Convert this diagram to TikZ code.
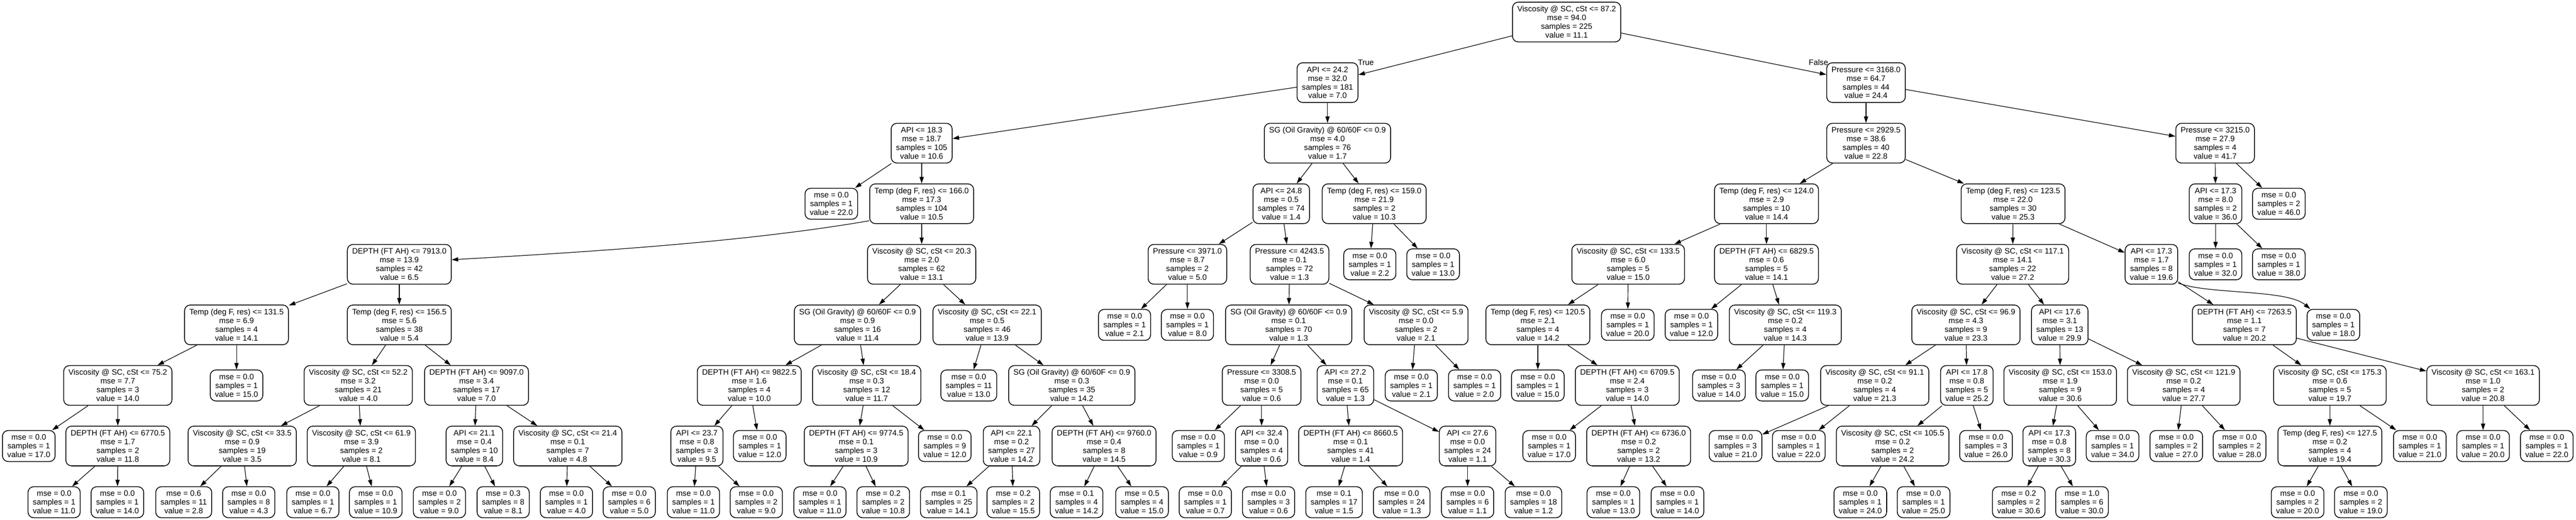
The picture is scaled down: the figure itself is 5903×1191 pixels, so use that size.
\documentclass[tikz,border=0pt]{standalone}
\usepackage{fontspec}
\setmainfont{Liberation Sans}
\usetikzlibrary{arrows.meta,calc}
\tikzset{
  box/.style={draw=black, line width=0.9pt, rounded corners=6.5pt, align=center,
    inner xsep=5.5pt, inner ysep=0pt, font=\fontsize{9pt}{10pt}\selectfont},
  nd/.style={box, minimum height=45.5pt},
  lf/.style={box, minimum height=35.5pt},
  edge/.style={draw=black, line width=0.7pt, -{Triangle[length=7.5pt,width=4.8pt]}},
  lbl/.style={font=\fontsize{9pt}{10pt}\selectfont, inner sep=0pt}
}
\begin{document}
\begin{tikzpicture}[x=0.5pt,y=-0.5pt]
\fill[white] (0,0) rectangle (5903,1191);
\useasboundingbox (0,0) rectangle (5903,1191);
% row 0
\node[nd] (n0) at (3590,50.5) {Viscosity @ SC, cSt <= 87.2\\mse = 94.0\\samples = 225\\value = 11.1};
% row 1
\node[nd] (n1) at (3042,189.25) {API <= 24.2\\mse = 32.0\\samples = 181\\value = 7.0};
\node[nd] (n2) at (4276,189.25) {Pressure <= 3168.0\\mse = 64.7\\samples = 44\\value = 24.4};
% row 2
\node[nd] (n3) at (2112,328) {API <= 18.3\\mse = 18.7\\samples = 105\\value = 10.6};
\node[nd] (n4) at (3042,328) {SG (Oil Gravity) @ 60/60F <= 0.9\\mse = 4.0\\samples = 76\\value = 1.7};
\node[nd] (n5) at (4276,328) {Pressure <= 2929.5\\mse = 38.6\\samples = 40\\value = 22.8};
\node[nd] (n6) at (5076,328) {Pressure <= 3215.0\\mse = 27.9\\samples = 4\\value = 41.7};
% row 3
\node[lf] (n7) at (1905,466.75) {mse = 0.0\\samples = 1\\value = 22.0};
\node[nd] (n8) at (2112,466.75) {Temp (deg F, res) <= 166.0\\mse = 17.3\\samples = 104\\value = 10.5};
\node[nd] (n9) at (2936,466.75) {API <= 24.8\\mse = 0.5\\samples = 74\\value = 1.4};
\node[nd] (n10) at (3149,466.75) {Temp (deg F, res) <= 159.0\\mse = 21.9\\samples = 2\\value = 10.3};
\node[nd] (n11) at (4048,466.75) {Temp (deg F, res) <= 124.0\\mse = 2.9\\samples = 10\\value = 14.4};
\node[nd] (n12) at (4613,466.75) {Temp (deg F, res) <= 123.5\\mse = 22.0\\samples = 30\\value = 25.3};
\node[nd] (n13) at (5077,466.75) {API <= 17.3\\mse = 8.0\\samples = 2\\value = 36.0};
\node[lf] (n14) at (5222,466.75) {mse = 0.0\\samples = 2\\value = 46.0};
% row 4
\node[nd] (n15) at (915,605.5) {DEPTH (FT AH) <= 7913.0\\mse = 13.9\\samples = 42\\value = 6.5};
\node[nd] (n16) at (2112,605.5) {Viscosity @ SC, cSt <= 20.3\\mse = 2.0\\samples = 62\\value = 13.1};
\node[nd] (n17) at (2721,605.5) {Pressure <= 3971.0\\mse = 8.7\\samples = 2\\value = 5.0};
\node[nd] (n18) at (2955,605.5) {Pressure <= 4243.5\\mse = 0.1\\samples = 72\\value = 1.3};
\node[lf] (n19) at (3139,605.5) {mse = 0.0\\samples = 1\\value = 2.2};
\node[lf] (n20) at (3284,605.5) {mse = 0.0\\samples = 1\\value = 13.0};
\node[nd] (n21) at (3731,605.5) {Viscosity @ SC, cSt <= 133.5\\mse = 6.0\\samples = 5\\value = 15.0};
\node[nd] (n22) at (4048,605.5) {DEPTH (FT AH) <= 6829.5\\mse = 0.6\\samples = 5\\value = 14.1};
\node[nd] (n23) at (4612,605.5) {Viscosity @ SC, cSt <= 117.1\\mse = 14.1\\samples = 22\\value = 27.2};
\node[nd] (n24) at (4930,605.5) {API <= 17.3\\mse = 1.7\\samples = 8\\value = 19.6};
\node[lf] (n25) at (5077,605.5) {mse = 0.0\\samples = 1\\value = 32.0};
\node[lf] (n26) at (5222,605.5) {mse = 0.0\\samples = 1\\value = 38.0};
% row 5
\node[nd] (n27) at (542,744.25) {Temp (deg F, res) <= 131.5\\mse = 6.9\\samples = 4\\value = 14.1};
\node[nd] (n28) at (915,744.25) {Temp (deg F, res) <= 156.5\\mse = 5.6\\samples = 38\\value = 5.4};
\node[nd] (n29) at (1965,744.25) {SG (Oil Gravity) @ 60/60F <= 0.9\\mse = 0.9\\samples = 16\\value = 11.4};
\node[nd] (n30) at (2262,744.25) {Viscosity @ SC, cSt <= 22.1\\mse = 0.5\\samples = 46\\value = 13.9};
\node[lf] (n31) at (2577,744.25) {mse = 0.0\\samples = 1\\value = 2.1};
\node[lf] (n32) at (2721,744.25) {mse = 0.0\\samples = 1\\value = 8.0};
\node[nd] (n33) at (2953,744.25) {SG (Oil Gravity) @ 60/60F <= 0.9\\mse = 0.1\\samples = 70\\value = 1.3};
\node[nd] (n34) at (3245,744.25) {Viscosity @ SC, cSt <= 5.9\\mse = 0.0\\samples = 2\\value = 2.1};
\node[nd] (n35) at (3524,744.25) {Temp (deg F, res) <= 120.5\\mse = 2.1\\samples = 4\\value = 14.2};
\node[lf] (n36) at (3730,744.25) {mse = 0.0\\samples = 1\\value = 20.0};
\node[lf] (n37) at (3876,744.25) {mse = 0.0\\samples = 1\\value = 12.0};
\node[nd] (n38) at (4091,744.25) {Viscosity @ SC, cSt <= 119.3\\mse = 0.2\\samples = 4\\value = 14.3};
\node[nd] (n39) at (4505,744.25) {Viscosity @ SC, cSt <= 96.9\\mse = 4.3\\samples = 9\\value = 23.3};
\node[nd] (n40) at (4720,744.25) {API <= 17.6\\mse = 3.1\\samples = 13\\value = 29.9};
\node[nd] (n41) at (5143,744.25) {DEPTH (FT AH) <= 7263.5\\mse = 1.1\\samples = 7\\value = 20.2};
\node[lf] (n42) at (5347,744.25) {mse = 0.0\\samples = 1\\value = 18.0};
% row 6
\node[nd] (n43) at (270,883) {Viscosity @ SC, cSt <= 75.2\\mse = 7.7\\samples = 3\\value = 14.0};
\node[lf] (n44) at (542,883) {mse = 0.0\\samples = 1\\value = 15.0};
\node[nd] (n45) at (821,883) {Viscosity @ SC, cSt <= 52.2\\mse = 3.2\\samples = 21\\value = 4.0};
\node[nd] (n46) at (1092,883) {DEPTH (FT AH) <= 9097.0\\mse = 3.4\\samples = 17\\value = 7.0};
\node[nd] (n47) at (1717,883) {DEPTH (FT AH) <= 9822.5\\mse = 1.6\\samples = 4\\value = 10.0};
\node[nd] (n48) at (1986,883) {Viscosity @ SC, cSt <= 18.4\\mse = 0.3\\samples = 12\\value = 11.7};
\node[lf] (n49) at (2220,883) {mse = 0.0\\samples = 11\\value = 13.0};
\node[nd] (n50) at (2456,883) {SG (Oil Gravity) @ 60/60F <= 0.9\\mse = 0.3\\samples = 35\\value = 14.2};
\node[nd] (n51) at (2891,883) {Pressure <= 3308.5\\mse = 0.0\\samples = 5\\value = 0.6};
\node[nd] (n52) at (3083,883) {API <= 27.2\\mse = 0.1\\samples = 65\\value = 1.3};
\node[lf] (n53) at (3234,883) {mse = 0.0\\samples = 1\\value = 2.1};
\node[lf] (n54) at (3379,883) {mse = 0.0\\samples = 1\\value = 2.0};
\node[lf] (n55) at (3524,883) {mse = 0.0\\samples = 1\\value = 15.0};
\node[nd] (n56) at (3729,883) {DEPTH (FT AH) <= 6709.5\\mse = 2.4\\samples = 3\\value = 14.0};
\node[lf] (n57) at (3939,883) {mse = 0.0\\samples = 3\\value = 14.0};
\node[lf] (n58) at (4084,883) {mse = 0.0\\samples = 1\\value = 15.0};
\node[nd] (n59) at (4296,883) {Viscosity @ SC, cSt <= 91.1\\mse = 0.2\\samples = 4\\value = 21.3};
\node[nd] (n60) at (4507,883) {API <= 17.8\\mse = 0.8\\samples = 5\\value = 25.2};
\node[nd] (n61) at (4721,883) {Viscosity @ SC, cSt <= 153.0\\mse = 1.9\\samples = 9\\value = 30.6};
\node[nd] (n62) at (5004,883) {Viscosity @ SC, cSt <= 121.9\\mse = 0.2\\samples = 4\\value = 27.7};
\node[nd] (n63) at (5339,883) {Viscosity @ SC, cSt <= 175.3\\mse = 0.6\\samples = 5\\value = 19.7};
\node[nd] (n64) at (5690,883) {Viscosity @ SC, cSt <= 163.1\\mse = 1.0\\samples = 2\\value = 20.8};
% row 7
\node[lf] (n65) at (66,1021.75) {mse = 0.0\\samples = 1\\value = 17.0};
\node[nd] (n66) at (270,1021.75) {DEPTH (FT AH) <= 6770.5\\mse = 1.7\\samples = 2\\value = 11.8};
\node[nd] (n67) at (555,1021.75) {Viscosity @ SC, cSt <= 33.5\\mse = 0.9\\samples = 19\\value = 3.5};
\node[nd] (n68) at (828,1021.75) {Viscosity @ SC, cSt <= 61.9\\mse = 3.9\\samples = 2\\value = 8.1};
\node[nd] (n69) at (1087,1021.75) {API <= 21.1\\mse = 0.4\\samples = 10\\value = 8.4};
\node[nd] (n70) at (1301,1021.75) {Viscosity @ SC, cSt <= 21.4\\mse = 0.1\\samples = 7\\value = 4.8};
\node[nd] (n71) at (1597,1021.75) {API <= 23.7\\mse = 0.8\\samples = 3\\value = 9.5};
\node[lf] (n72) at (1741,1021.75) {mse = 0.0\\samples = 1\\value = 12.0};
\node[nd] (n73) at (1962,1021.75) {DEPTH (FT AH) <= 9774.5\\mse = 0.1\\samples = 3\\value = 10.9};
\node[lf] (n74) at (2165,1021.75) {mse = 0.0\\samples = 9\\value = 12.0};
\node[nd] (n75) at (2318,1021.75) {API <= 22.1\\mse = 0.2\\samples = 27\\value = 14.2};
\node[nd] (n76) at (2530,1021.75) {DEPTH (FT AH) <= 9760.0\\mse = 0.4\\samples = 8\\value = 14.5};
\node[lf] (n77) at (2746,1021.75) {mse = 0.0\\samples = 1\\value = 0.9};
\node[nd] (n78) at (2891,1021.75) {API <= 32.4\\mse = 0.0\\samples = 4\\value = 0.6};
\node[nd] (n79) at (3095,1021.75) {DEPTH (FT AH) <= 8660.5\\mse = 0.1\\samples = 41\\value = 1.4};
\node[nd] (n80) at (3363,1021.75) {API <= 27.6\\mse = 0.0\\samples = 24\\value = 1.1};
\node[lf] (n81) at (3550,1021.75) {mse = 0.0\\samples = 1\\value = 17.0};
\node[nd] (n82) at (3755,1021.75) {DEPTH (FT AH) <= 6736.0\\mse = 0.2\\samples = 2\\value = 13.2};
\node[lf] (n83) at (3977,1021.75) {mse = 0.0\\samples = 3\\value = 21.0};
\node[lf] (n84) at (4122,1021.75) {mse = 0.0\\samples = 1\\value = 22.0};
\node[nd] (n85) at (4337,1021.75) {Viscosity @ SC, cSt <= 105.5\\mse = 0.2\\samples = 2\\value = 24.2};
\node[lf] (n86) at (4551,1021.75) {mse = 0.0\\samples = 3\\value = 26.0};
\node[nd] (n87) at (4696,1021.75) {API <= 17.3\\mse = 0.8\\samples = 8\\value = 30.3};
\node[lf] (n88) at (4841,1021.75) {mse = 0.0\\samples = 1\\value = 34.0};
\node[lf] (n89) at (4987,1021.75) {mse = 0.0\\samples = 2\\value = 27.0};
\node[lf] (n90) at (5132,1021.75) {mse = 0.0\\samples = 2\\value = 28.0};
\node[nd] (n91) at (5339,1021.75) {Temp (deg F, res) <= 127.5\\mse = 0.2\\samples = 4\\value = 19.4};
\node[lf] (n92) at (5545,1021.75) {mse = 0.0\\samples = 1\\value = 21.0};
\node[lf] (n93) at (5690,1021.75) {mse = 0.0\\samples = 1\\value = 20.0};
\node[lf] (n94) at (5836,1021.75) {mse = 0.0\\samples = 1\\value = 22.0};
% row 8
\node[lf] (n95) at (124,1150.5) {mse = 0.0\\samples = 1\\value = 11.0};
\node[lf] (n96) at (269,1150.5) {mse = 0.0\\samples = 1\\value = 14.0};
\node[lf] (n97) at (421,1150.5) {mse = 0.6\\samples = 11\\value = 2.8};
\node[lf] (n98) at (570,1150.5) {mse = 0.0\\samples = 8\\value = 4.3};
\node[lf] (n99) at (717,1150.5) {mse = 0.0\\samples = 1\\value = 6.7};
\node[lf] (n100) at (861,1150.5) {mse = 0.0\\samples = 1\\value = 10.9};
\node[lf] (n101) at (1007,1150.5) {mse = 0.0\\samples = 2\\value = 9.0};
\node[lf] (n102) at (1153,1150.5) {mse = 0.3\\samples = 8\\value = 8.1};
\node[lf] (n103) at (1298,1150.5) {mse = 0.0\\samples = 1\\value = 4.0};
\node[lf] (n104) at (1442,1150.5) {mse = 0.0\\samples = 6\\value = 5.0};
\node[lf] (n105) at (1589,1150.5) {mse = 0.0\\samples = 1\\value = 11.0};
\node[lf] (n106) at (1733,1150.5) {mse = 0.0\\samples = 2\\value = 9.0};
\node[lf] (n107) at (1879,1150.5) {mse = 0.0\\samples = 1\\value = 11.0};
\node[lf] (n108) at (2024,1150.5) {mse = 0.2\\samples = 2\\value = 10.8};
\node[lf] (n109) at (2174,1150.5) {mse = 0.1\\samples = 25\\value = 14.1};
\node[lf] (n110) at (2322,1150.5) {mse = 0.2\\samples = 2\\value = 15.5};
\node[lf] (n111) at (2467,1150.5) {mse = 0.1\\samples = 4\\value = 14.2};
\node[lf] (n112) at (2617,1150.5) {mse = 0.5\\samples = 4\\value = 15.0};
\node[lf] (n113) at (2762,1150.5) {mse = 0.0\\samples = 1\\value = 0.7};
\node[lf] (n114) at (2907,1150.5) {mse = 0.0\\samples = 3\\value = 0.6};
\node[lf] (n115) at (3057,1150.5) {mse = 0.1\\samples = 17\\value = 1.5};
\node[lf] (n116) at (3212,1150.5) {mse = 0.0\\samples = 24\\value = 1.3};
\node[lf] (n117) at (3363,1150.5) {mse = 0.0\\samples = 6\\value = 1.1};
\node[lf] (n118) at (3514,1150.5) {mse = 0.0\\samples = 18\\value = 1.2};
\node[lf] (n119) at (3697,1150.5) {mse = 0.0\\samples = 1\\value = 13.0};
\node[lf] (n120) at (3844,1150.5) {mse = 0.0\\samples = 1\\value = 14.0};
\node[lf] (n121) at (4263,1150.5) {mse = 0.0\\samples = 1\\value = 24.0};
\node[lf] (n122) at (4408,1150.5) {mse = 0.0\\samples = 1\\value = 25.0};
\node[lf] (n123) at (4626,1150.5) {mse = 0.2\\samples = 2\\value = 30.6};
\node[lf] (n124) at (4771,1150.5) {mse = 1.0\\samples = 6\\value = 30.0};
\node[lf] (n125) at (5265,1150.5) {mse = 0.0\\samples = 2\\value = 20.0};
\node[lf] (n126) at (5410,1150.5) {mse = 0.0\\samples = 2\\value = 19.0};
% labels
\node[lbl] (tl) at (3130,143) {True};
\node[lbl] (fl) at (4167,143) {False};
% edges
\foreach \a/\b in {n0/n1,n0/n2,n1/n3,n1/n4,n2/n5,n2/n6,n3/n7,n3/n8,n4/n9,n4/n10,
  n5/n11,n5/n12,n6/n13,n6/n14,n8/n16,n9/n17,n9/n18,n10/n19,n10/n20,
  n11/n21,n11/n22,n12/n23,n12/n24,n13/n25,n13/n26,n15/n27,n15/n28,n16/n29,n16/n30,
  n17/n31,n17/n32,n18/n33,n18/n34,n21/n35,n21/n36,n22/n37,n22/n38,n23/n39,n23/n40,
  n24/n41,n27/n43,n27/n44,n28/n45,n28/n46,n29/n47,n29/n48,n30/n49,n30/n50,
  n33/n51,n33/n52,n34/n53,n34/n54,n35/n55,n35/n56,n38/n57,n38/n58,n39/n59,n39/n60,
  n40/n61,n40/n62,n41/n63,n41/n64,n43/n65,n43/n66,n45/n67,n45/n68,n46/n69,n46/n70,
  n47/n71,n47/n72,n48/n73,n48/n74,n50/n75,n50/n76,n51/n77,n51/n78,n52/n79,n52/n80,
  n56/n81,n56/n82,n59/n83,n59/n84,n60/n85,n60/n86,n61/n87,n61/n88,n62/n89,n62/n90,
  n63/n91,n63/n92,n64/n93,n64/n94,n66/n95,n66/n96,n67/n97,n67/n98,n68/n99,n68/n100,
  n69/n101,n69/n102,n70/n103,n70/n104,n71/n105,n71/n106,n73/n107,n73/n108,
  n75/n109,n75/n110,n76/n111,n76/n112,n78/n113,n78/n114,n79/n115,n79/n116,
  n80/n117,n80/n118,n82/n119,n82/n120,n85/n121,n85/n122,n87/n123,n87/n124,
  n91/n125,n91/n126}
  \draw[edge] (\a) -- (\b);
% curved edges
\draw[edge] (n8.198) .. controls (1700,556) and (1330,578) .. (n15.5);
\draw[edge] (n24.-35) .. controls (5060,675) and (5240,662) .. ($(n42.north west)+(8,0)$);
\end{tikzpicture}
\end{document}
